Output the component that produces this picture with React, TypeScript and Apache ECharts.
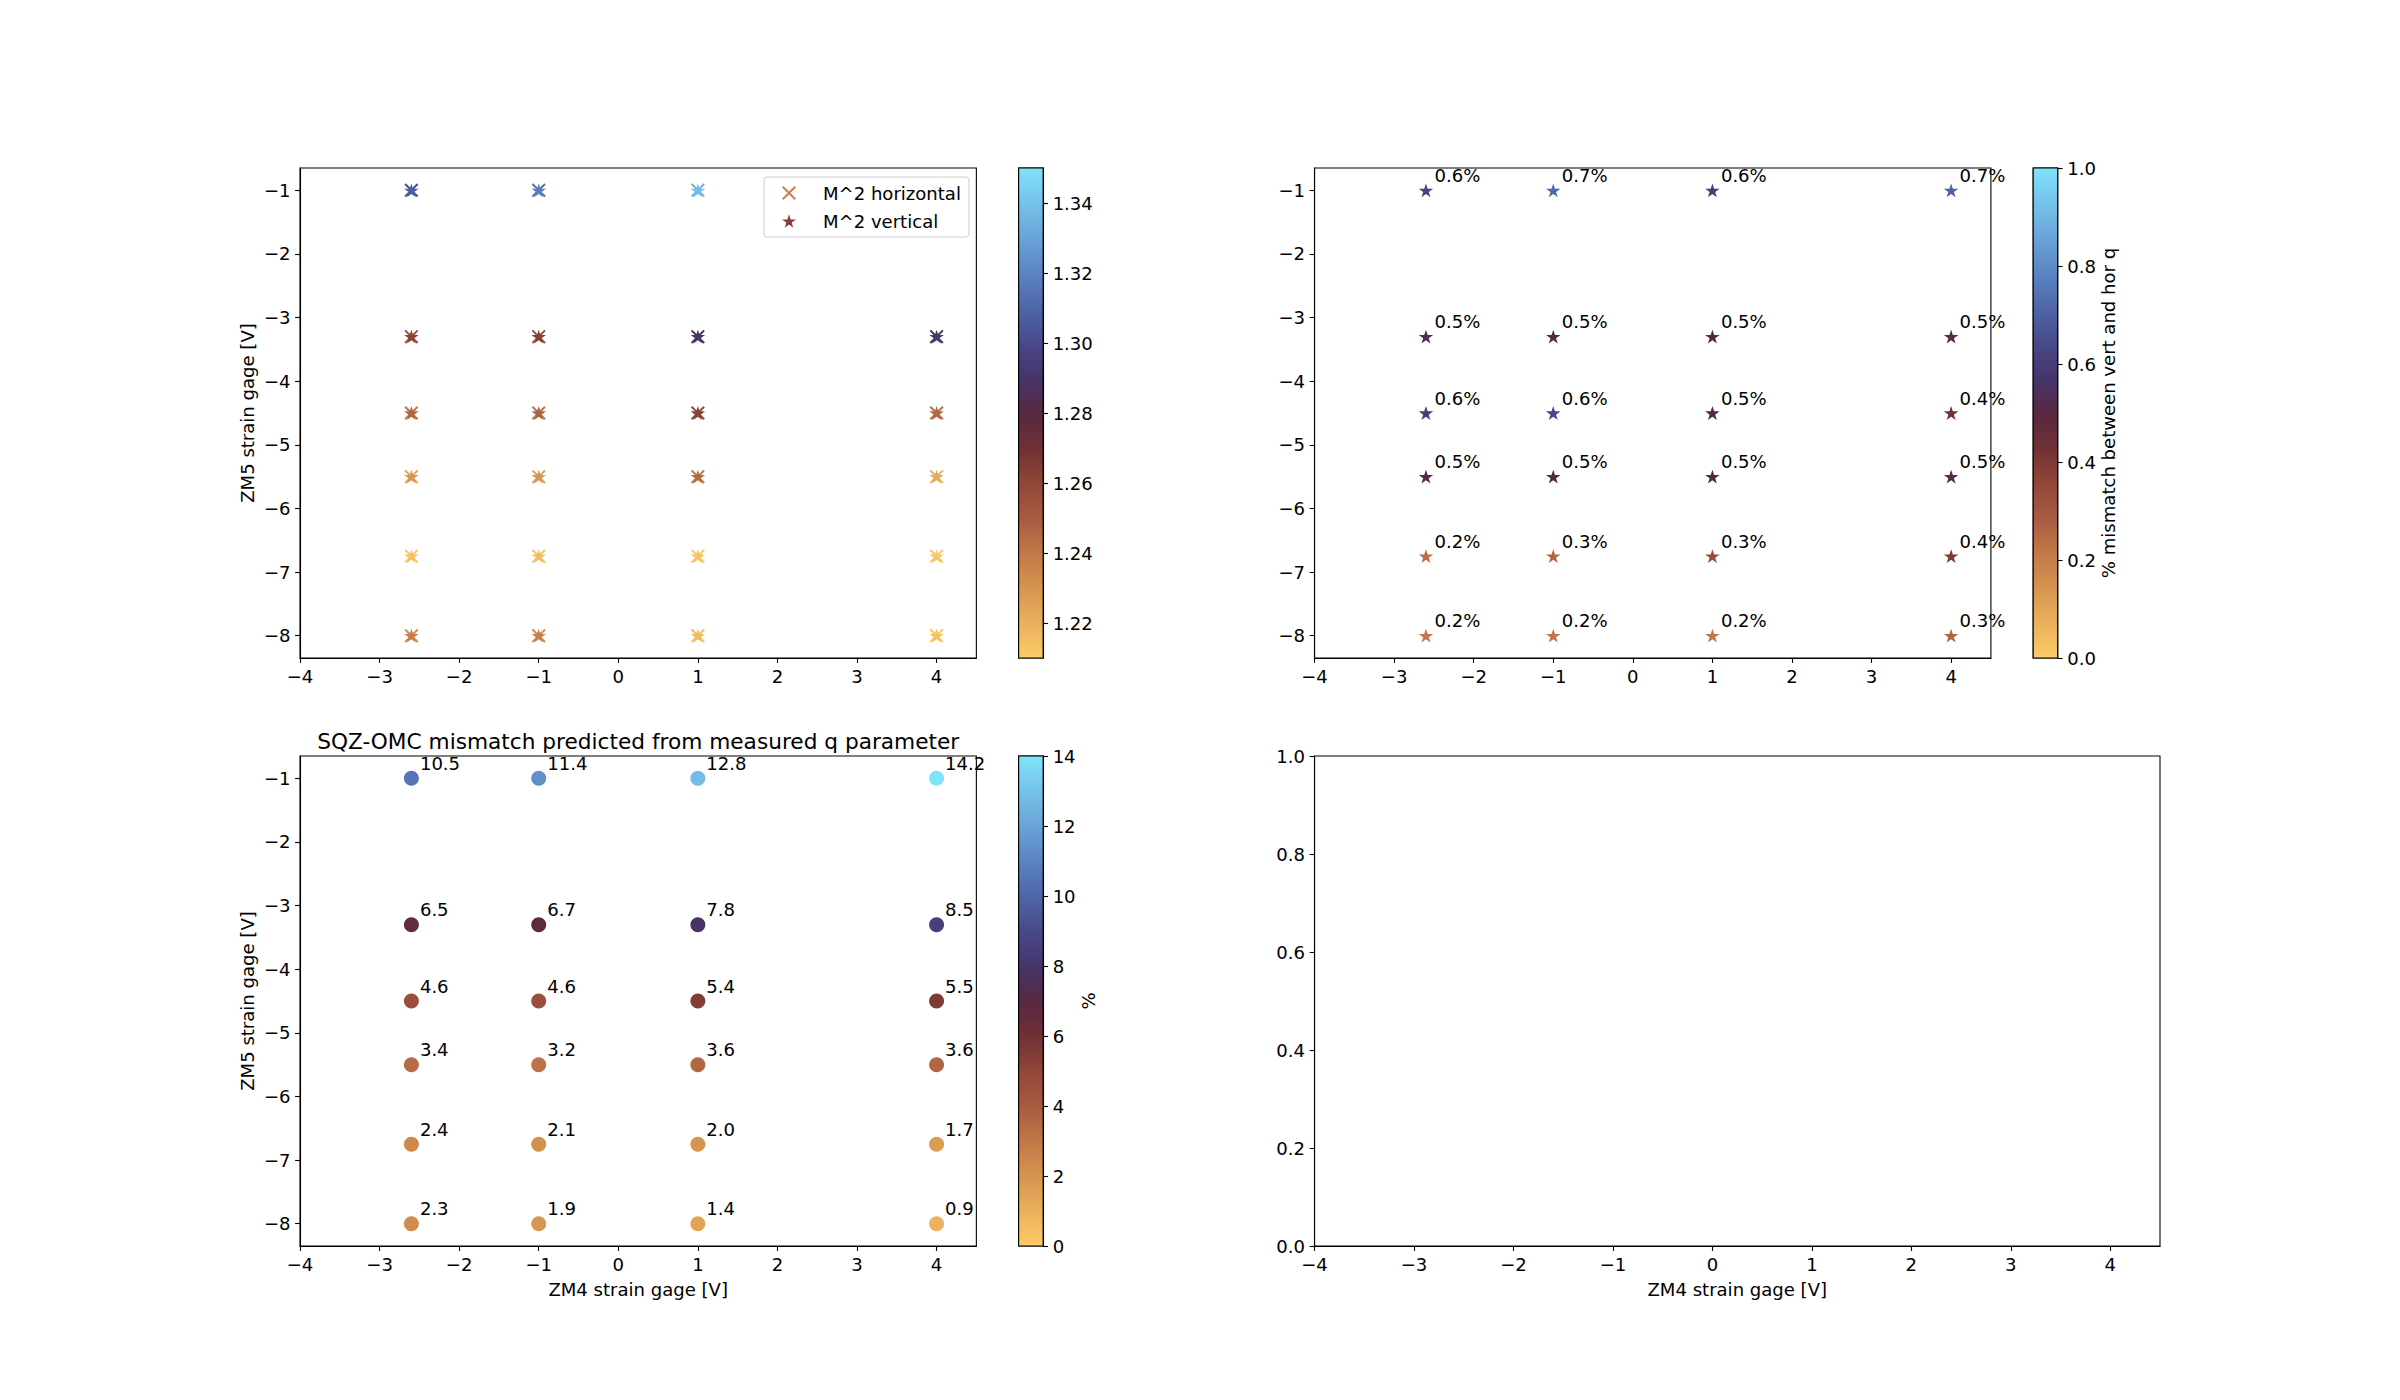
import React, { useEffect, useRef } from "react";
import * as echarts from "echarts";

const FONT = "DejaVu Sans";

// ---- data ----
const X_POS = [-2.6, -1, 1, 4];
const Y_POS = [-1, -3.3, -4.5, -5.5, -6.75, -8];

// M^2 values (rows follow Y_POS, columns follow X_POS)
const M2_HORIZONTAL = [
  [1.303, 1.314, 1.335, 1.347],
  [1.255, 1.256, 1.286, 1.288],
  [1.24, 1.241, 1.257, 1.243],
  [1.224, 1.226, 1.24, 1.218],
  [1.212, 1.213, 1.211, 1.211],
  [1.232, 1.232, 1.214, 1.212],
];
const M2_VERTICAL = [
  [1.308, 1.318, 1.338, 1.35],
  [1.262, 1.263, 1.29, 1.292],
  [1.246, 1.247, 1.262, 1.246],
  [1.229, 1.23, 1.245, 1.222],
  [1.214, 1.215, 1.213, 1.212],
  [1.238, 1.237, 1.216, 1.214],
];
// % mismatch between vert and hor q
const Q_MISMATCH = [
  [0.62, 0.72, 0.6, 0.7],
  [0.52, 0.5, 0.5, 0.52],
  [0.6, 0.63, 0.5, 0.42],
  [0.5, 0.5, 0.5, 0.52],
  [0.24, 0.26, 0.34, 0.4],
  [0.22, 0.22, 0.22, 0.26],
];
// SQZ-OMC mismatch %
const OMC_MISMATCH = [
  [10.5, 11.4, 12.8, 14.2],
  [6.5, 6.7, 7.8, 8.5],
  [4.6, 4.6, 5.4, 5.5],
  [3.4, 3.2, 3.6, 3.6],
  [2.4, 2.1, 2.0, 1.7],
  [2.3, 1.9, 1.4, 0.9],
];

const X_TICKS = [-4, -3, -2, -1, 0, 1, 2, 3, 4];
const Y_TICKS = [-8, -7, -6, -5, -4, -3, -2, -1];
const CB1_TICKS = [1.22, 1.24, 1.26, 1.28, 1.3, 1.32, 1.34];
const CB2_TICKS = [0, 0.2, 0.4, 0.6, 0.8, 1.0];
const CB3_TICKS = [0, 2, 4, 6, 8, 10, 12, 14];
const Y4_TICKS = [0, 0.2, 0.4, 0.6, 0.8, 1.0];

const CB1_RANGE = [1.21, 1.35];
const CB2_RANGE = [0, 1];
const CB3_RANGE = [0, 14];
const X_RANGE = [-4, 4.5];
const Y_RANGE = [-8.35, -0.65];

// managua-like colormap stops
const CMAP_STOPS: [number, string][] = [
  [0.0, "#fdcb66"],
  [0.071, "#eab15d"],
  [0.143, "#d6944f"],
  [0.214, "#c27848"],
  [0.286, "#a85a41"],
  [0.357, "#914637"],
  [0.429, "#703035"],
  [0.5, "#582842"],
  [0.571, "#46356a"],
  [0.643, "#48498a"],
  [0.714, "#4f66a8"],
  [0.786, "#5b84c3"],
  [0.857, "#6aa3d8"],
  [0.929, "#75c3ea"],
  [1.0, "#80e3fb"],
];

function hexToRgb(h: string) {
  return [parseInt(h.slice(1, 3), 16), parseInt(h.slice(3, 5), 16), parseInt(h.slice(5, 7), 16)];
}
function cmapAt(t: number) {
  for (let i = 0; i < CMAP_STOPS.length - 1; i++) {
    const [a, ca] = CMAP_STOPS[i];
    const [b, cb] = CMAP_STOPS[i + 1];
    if (t >= a && t <= b) {
      const f = (t - a) / (b - a);
      const A = hexToRgb(ca);
      const B = hexToRgb(cb);
      const c = A.map((v, k) => Math.round(v + (B[k] - v) * f));
      return `rgb(${c[0]},${c[1]},${c[2]})`;
    }
  }
  return CMAP_STOPS[CMAP_STOPS.length - 1][1];
}
const CMAP_LIST = Array.from({ length: 141 }, (_, i) => cmapAt(i / 140));

const STAR_PATH = (() => {
  const pts: string[] = [];
  for (let i = 0; i < 10; i++) {
    const r = i % 2 === 0 ? 50 : 19.1;
    const a = -Math.PI / 2 + (i * Math.PI) / 5;
    pts.push(`${(50 + r * Math.cos(a)).toFixed(2)} ${(50 + r * Math.sin(a)).toFixed(2)}`);
  }
  return "path://M" + pts.join(" L") + " Z";
})();
const X_PATH =
  "path://M0 10 L10 0 L50 40 L90 0 L100 10 L60 50 L100 90 L90 100 L50 60 L10 100 L0 90 L40 50 Z";

function points(values: number[][]) {
  const out: number[][] = [];
  Y_POS.forEach((y, r) => X_POS.forEach((x, c) => out.push([x, y, values[r][c]])));
  return out;
}

const fmt = (v: number, d: number) => (v < 0 ? "\u2212" : "") + Math.abs(v).toFixed(d);

const FS = 18.06;
const TXT = { color: "#000", fontSize: FS, fontFamily: FONT };

function valAxis(gridIndex: number, range: number[], ticks: number[], dec: number, extra: any = {}) {
  return {
    type: "value",
    gridIndex,
    min: range[0],
    max: range[1],
    axisLine: { show: true, onZero: false, lineStyle: { color: "#000", width: 1.1 } },
    axisTick: { show: true, length: 4.9, customValues: ticks, lineStyle: { color: "#000", width: 1.1 } },
    axisLabel: { ...TXT, margin: 9.5, customValues: ticks, formatter: (v: number) => fmt(v, dec) },
    splitLine: { show: false },
    nameTextStyle: { ...TXT },
    ...extra,
  };
}

function hiddenX(gridIndex: number) {
  return { type: "value", gridIndex, min: 0, max: 1, show: false };
}

function colorbarSeries(axisIndex: number, range: number[]) {
  return {
    type: "custom",
    xAxisIndex: axisIndex,
    yAxisIndex: axisIndex,
    silent: true,
    clip: false,
    z: 5,
    data: [[0, range[0], 1, range[1]]],
    renderItem: (_p: any, api: any) => {
      const p0 = api.coord([api.value(0), api.value(1)]);
      const p1 = api.coord([api.value(2), api.value(3)]);
      const shape = { x: p0[0], y: p1[1], width: p1[0] - p0[0], height: p0[1] - p1[1] };
      return {
        type: "group",
        children: [
          {
            type: "rect",
            shape,
            style: {
              fill: new echarts.graphic.LinearGradient(
                0, 1, 0, 0,
                CMAP_STOPS.map(([o, c]) => ({ offset: o, color: c }))
              ),
            },
          },
          { type: "rect", shape, style: { fill: "none", stroke: "#000", lineWidth: 1.1 } },
        ],
      };
    },
  };
}

const W = 1860 / 2.2;
const H = 1078 / 2.2;
const PW = W * 0.8;
const CBW = H / 20;
const L1 = 300;
const L2 = 300 + W * 1.2;
const T1 = 168;
const T2 = 168 + H * 1.2;

const gridStyle = { show: true, borderColor: "#000", borderWidth: 1.1, backgroundColor: "transparent" };

const valueLabel = (suffix: string) => ({
  show: true,
  position: "inside",
  align: "left",
  verticalAlign: "bottom",
  offset: [8.5, -6],
  ...TXT,
  formatter: (p: any) => p.value[2].toFixed(1) + suffix,
});

export default function App() {
  const ref = useRef<HTMLDivElement>(null);
  useEffect(() => {
    if (!ref.current) return;
    const chart = echarts.init(ref.current, undefined, { renderer: "svg" });
    const option: any = {
      animation: false,
      backgroundColor: "#fff",
      textStyle: { fontFamily: FONT },
      title: {
        text: "SQZ-OMC mismatch predicted from measured q parameter",
        left: L1 + PW / 2,
        top: 730,
        textAlign: "center",
        padding: 0,
        textStyle: { fontSize: 21.67, fontWeight: "normal", color: "#000", fontFamily: FONT },
      },
      legend: {
        orient: "vertical",
        left: 764,
        top: 177,
        padding: [5.5, 8, 5.5, 18],
        itemGap: 7,
        itemWidth: 14,
        itemHeight: 14,
        selectedMode: false,
        backgroundColor: "rgba(255,255,255,0.8)",
        borderColor: "#cccccc",
        borderWidth: 1,
        borderRadius: 3,
        textStyle: { ...TXT, lineHeight: 21, padding: [0, 0, 0, 22] },
        data: [
          { name: "M^2 horizontal", icon: X_PATH, itemStyle: { color: "#cd7f4d" } },
          { name: "M^2 vertical", icon: STAR_PATH, itemStyle: { color: "#8b3a35" } },
        ],
      },
      grid: [
        { left: L1, top: T1, width: PW, height: H, ...gridStyle },
        { left: L1 + 0.85 * W, top: T1, width: CBW, height: H, ...gridStyle },
        { left: L2, top: T1, width: PW, height: H, ...gridStyle },
        { left: L2 + 0.85 * W, top: T1, width: CBW, height: H, ...gridStyle },
        { left: L1, top: T2, width: PW, height: H, ...gridStyle },
        { left: L1 + 0.85 * W, top: T2, width: CBW, height: H, ...gridStyle },
        { left: L2, top: T2, width: W, height: H, ...gridStyle },
      ],
      xAxis: [
        valAxis(0, X_RANGE, X_TICKS, 0),
        hiddenX(1),
        valAxis(2, X_RANGE, X_TICKS, 0),
        hiddenX(3),
        valAxis(4, X_RANGE, X_TICKS, 0, { name: "ZM4 strain gage [V]", nameLocation: "middle", nameGap: 34 }),
        hiddenX(5),
        valAxis(6, X_RANGE, X_TICKS, 0, { name: "ZM4 strain gage [V]", nameLocation: "middle", nameGap: 34 }),
      ],
      yAxis: [
        valAxis(0, Y_RANGE, Y_TICKS, 0, { name: "ZM5 strain gage [V]", nameLocation: "middle", nameGap: 44, nameRotate: 90 }),
        valAxis(1, CB1_RANGE, CB1_TICKS, 2, { position: "right" }),
        valAxis(2, Y_RANGE, Y_TICKS, 0),
        valAxis(3, CB2_RANGE, CB2_TICKS, 1, {
          position: "right",
          name: "% mismatch between vert and hor q",
          nameLocation: "middle",
          nameGap: 41.5,
          nameRotate: 90,
        }),
        valAxis(4, Y_RANGE, Y_TICKS, 0, { name: "ZM5 strain gage [V]", nameLocation: "middle", nameGap: 44, nameRotate: 90 }),
        valAxis(5, CB3_RANGE, CB3_TICKS, 0, { position: "right", name: "%", nameLocation: "middle", nameGap: 36.5, nameRotate: 90 }),
        valAxis(6, [0, 1], Y4_TICKS, 1),
      ],
      visualMap: [
        { type: "continuous", show: false, seriesIndex: [0, 1], dimension: 2, min: CB1_RANGE[0], max: CB1_RANGE[1], inRange: { color: CMAP_LIST } },
        { type: "continuous", show: false, seriesIndex: [3], dimension: 2, min: CB2_RANGE[0], max: CB2_RANGE[1], inRange: { color: CMAP_LIST } },
        { type: "continuous", show: false, seriesIndex: [5], dimension: 2, min: CB3_RANGE[0], max: CB3_RANGE[1], inRange: { color: CMAP_LIST } },
      ],
      series: [
        {
          name: "M^2 horizontal",
          type: "scatter",
          xAxisIndex: 0,
          yAxisIndex: 0,
          symbol: X_PATH,
          symbolSize: 14,
          itemStyle: { opacity: 1 },
          data: points(M2_HORIZONTAL),
        },
        {
          name: "M^2 vertical",
          type: "scatter",
          xAxisIndex: 0,
          yAxisIndex: 0,
          symbol: STAR_PATH,
          symbolSize: 14.5,
          symbolKeepAspect: true,
          itemStyle: { opacity: 1 },
          data: points(M2_VERTICAL),
        },
        colorbarSeries(1, CB1_RANGE),
        {
          name: "q mismatch",
          type: "scatter",
          xAxisIndex: 2,
          yAxisIndex: 2,
          symbol: STAR_PATH,
          symbolSize: 14.5,
          symbolKeepAspect: true,
          itemStyle: { opacity: 1 },
          data: points(Q_MISMATCH),
          label: valueLabel("%"),
        },
        colorbarSeries(3, CB2_RANGE),
        {
          name: "SQZ-OMC mismatch",
          type: "scatter",
          xAxisIndex: 4,
          yAxisIndex: 4,
          symbol: "circle",
          symbolSize: 15,
          itemStyle: { opacity: 1 },
          data: points(OMC_MISMATCH),
          label: valueLabel(""),
        },
        colorbarSeries(5, CB3_RANGE),
      ],
    };
    chart.setOption(option);
    return () => chart.dispose();
  }, []);
  return (
    <div
      ref={ref}
      style={{ position: "absolute", left: 0, top: 0, width: 2400, height: 1400, background: "#fff" }}
    />
  );
}
